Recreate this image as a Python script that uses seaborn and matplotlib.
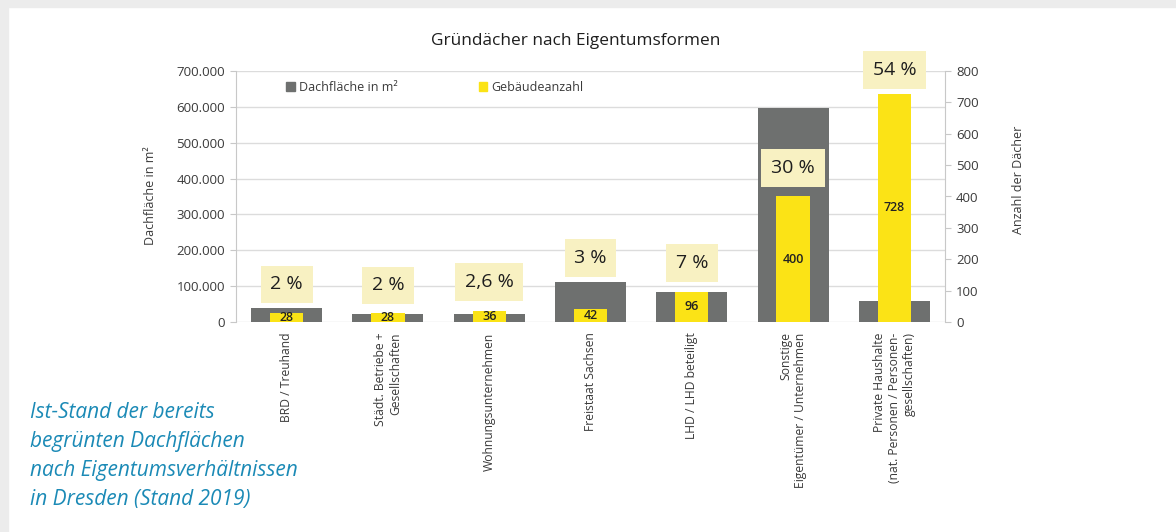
import matplotlib
matplotlib.use("Agg")
import matplotlib.pyplot as plt
import matplotlib.patches as mpatches
import seaborn as sns
import pandas as pd

# data
categories = ["BRD / Treuhand", "Städt. Betriebe +\nGesellschaften", "Wohnungsunternehmen",
              "Freistaat Sachsen", "LHD / LHD beteiligt", "Sonstige\nEigentümer / Unternehmen",
              "Private Haushalte\n(nat. Personen / Personen-\ngesellschaften)"]
dachflaeche = [38000, 22000, 22000, 111000, 84000, 596000, 58000]
gebaeude = [28, 28, 36, 42, 96, 400, 728]
anteil = ["2 %", "2 %", "2,6 %", "3 %", "7 %", "30 %", "54 %"]
anteil_pos = [120, 117, 127, 204, 188, 491, 803]
caption_lines = ["Ist-Stand der bereits", "begrünten Dachflächen",
                 "nach Eigentumsverhältnissen", "in Dresden (Stand 2019)"]

sns.set_style("white")
plt.rcParams["font.family"] = ["Open Sans", "DejaVu Sans"]

grey = "#6e706f"
yellow = "#fbe316"
txt = "#3a3a3a"

df = pd.DataFrame({"Kategorie": categories, "Dachfläche": dachflaeche, "Gebäude": gebaeude})

fig = plt.figure(figsize=(11.76, 5.32), dpi=100)
fig.patches.append(mpatches.Rectangle((0, 0), 8 / 1176, 1, transform=fig.transFigure,
                                      color="#ececec", zorder=0))
fig.patches.append(mpatches.Rectangle((0, 1 - 7 / 532), 1, 7 / 532, transform=fig.transFigure,
                                      color="#ececec", zorder=0))

ax = fig.add_axes([236 / 1176, 1 - 322 / 532, 709 / 1176, 251 / 532])
ax2 = ax.twinx()

sns.barplot(data=df, x="Kategorie", y="Dachfläche", order=categories, ax=ax,
            color=grey, width=0.7, saturation=1, linewidth=0, edgecolor="none", zorder=2)
sns.barplot(data=df, x="Kategorie", y="Gebäude", order=categories, ax=ax2,
            color=yellow, width=0.33, saturation=1, linewidth=0, edgecolor="none", zorder=2)

ax.set_ylim(0, 700000)
ax2.set_ylim(0, 800)
ax.set_xlim(-0.5, 6.5)
ax.set_yticks(range(0, 700001, 100000))
ax.set_yticklabels(["0" if v == 0 else f"{v:,}".replace(",", ".") for v in range(0, 700001, 100000)])
ax2.set_yticks(range(0, 801, 100))

ax.yaxis.grid(True, color="#dcdcdc", linewidth=1)
ax.set_axisbelow(True)
ax.set_xlabel("")
ax.set_ylabel("")
ax2.set_xlabel("")
ax2.set_ylabel("")

for a in (ax, ax2):
    for s in ("top", "bottom"):
        a.spines[s].set_visible(False)
ax.spines["right"].set_visible(False)
ax2.spines["left"].set_visible(False)
ax.spines["left"].set_color("#c8c8c8")
ax2.spines["right"].set_color("#c8c8c8")

ax.tick_params(axis="y", left=True, length=4, color="#c8c8c8", labelsize=9.5, labelcolor=txt, pad=4)
ax2.tick_params(axis="y", right=True, length=4, color="#c8c8c8", labelsize=9.5, labelcolor=txt, pad=4)
ax.tick_params(axis="x", bottom=False, pad=4)
ax.set_xticks(range(len(categories)))
ax.set_xticklabels(categories, rotation=90, fontsize=8.7, color=txt, ha="center", va="top",
                   multialignment="right")

# values inside yellow bars
ax2.bar_label(ax2.containers[0], labels=[str(v) for v in gebaeude], label_type="center",
              fontsize=9, color="#222222", fontweight="semibold")

# percentage boxes
for i, (lab, y) in enumerate(zip(anteil, anteil_pos)):
    ax2.text(i, y, lab, ha="center", va="center", fontsize=14, color="#1e1e1e", zorder=5,
             clip_on=False,
             bbox=dict(boxstyle="square,pad=0.5", facecolor="#f8f1c2", edgecolor="none"))

handles = [mpatches.Patch(color=grey, label="Dachfläche in m²"),
           mpatches.Patch(color=yellow, label="Gebäudeanzahl")]
ax2.legend(handles=handles, loc="center left", bbox_to_anchor=(0.055, 0.935), ncol=2,
           frameon=False, fontsize=9, handlelength=0.7, handleheight=0.7, handletextpad=0.3,
           columnspacing=6.5, labelcolor=txt)

fig.text(576 / 1176, 1 - 41 / 532, "Gründächer nach Eigentumsformen", ha="center", va="center",
         fontsize=12.4, color="#1e1e1e")
fig.text(150 / 1176, 1 - 196 / 532, "Dachfläche in m²", rotation=90, ha="center", va="center",
         fontsize=9, color=txt)
fig.text(1018 / 1176, 1 - 180 / 532, "Anzahl der Dächer", rotation=90, ha="center", va="center",
         fontsize=9, color=txt)

# caption, one text per line
for k, line in enumerate(caption_lines):
    fig.text(30 / 1176, 1 - (412 + k * 29.3) / 532, line, ha="left", va="center", fontsize=15,
             style="italic", color="#1b8ab6")

fig.savefig("out.png", dpi=100, facecolor="white")
